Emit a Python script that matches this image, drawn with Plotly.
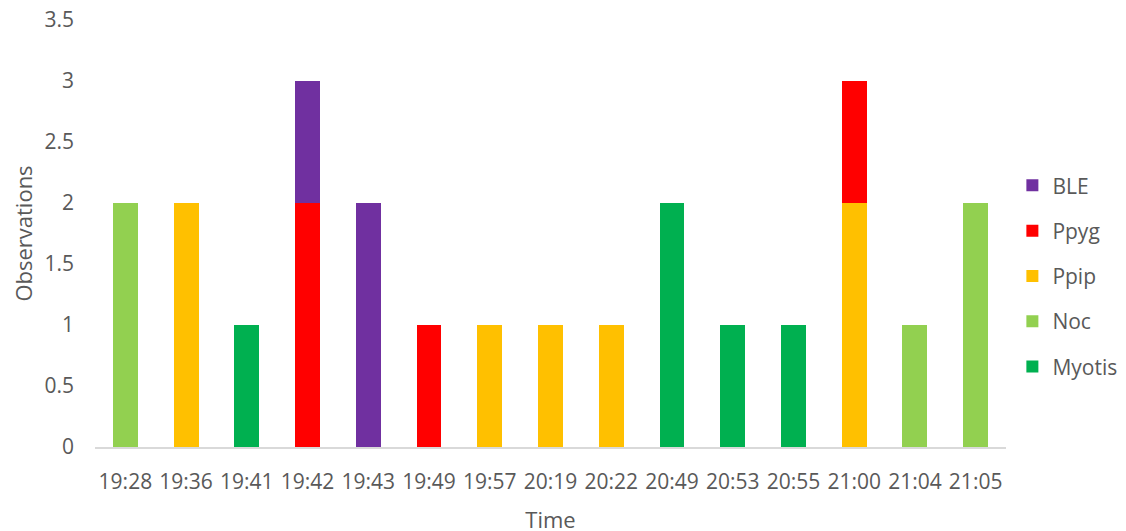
import plotly.graph_objects as go

times = ["19:28", "19:36", "19:41", "19:42", "19:43", "19:49", "19:57", "20:19",
         "20:22", "20:49", "20:53", "20:55", "21:00", "21:04", "21:05"]

myotis = [0, 0, 1, 0, 0, 0, 0, 0, 0, 2, 1, 1, 0, 0, 0]
noc = [2, 0, 0, 0, 0, 0, 0, 0, 0, 0, 0, 0, 0, 1, 2]
ppip = [0, 2, 0, 0, 0, 0, 1, 1, 1, 0, 0, 0, 2, 0, 0]
ppyg = [0, 0, 0, 2, 0, 1, 0, 0, 0, 0, 0, 0, 1, 0, 0]
ble = [0, 0, 0, 1, 2, 0, 0, 0, 0, 0, 0, 0, 0, 0, 0]

# bottom of the stack first; legend shows them top-down
series = [
    ("Myotis", myotis, "#00B050"),
    ("Noc", noc, "#92D050"),
    ("Ppip", ppip, "#FFC000"),
    ("Ppyg", ppyg, "#FF0000"),
    ("BLE", ble, "#7030A0"),
]

fig = go.Figure()
for i, (name, vals, color) in enumerate(series):
    fig.add_trace(go.Bar(x=times, y=vals, name=name, marker_color=color,
                         marker_line_width=0, legendgroup=name,
                         legendrank=len(series) - i))

grey = "#595959"
fig.update_layout(
    barmode="stack",
    bargap=0.59,
    width=1126,
    height=531,
    plot_bgcolor="white",
    paper_bgcolor="white",
    margin=dict(l=87, r=118, t=12, b=92),
    font=dict(family="Open Sans, Liberation Sans, sans-serif", color=grey, size=21),
    legend=dict(traceorder="grouped", x=1.007, y=0.40, yanchor="middle",
                tracegroupgap=15, itemwidth=30, font=dict(size=21, color=grey)),
    xaxis=dict(title=dict(text="Time", font=dict(size=22), standoff=18),
               automargin=False, showline=True, linecolor="#D9D9D9", linewidth=2,
               tickfont=dict(size=21, color=grey), ticks="", showgrid=False,
               ticklabelstandoff=15),
    yaxis=dict(title=dict(text="Observations", font=dict(size=22), standoff=6),
               automargin=False, range=[0, 3.5], dtick=0.5, showgrid=False,
               zeroline=False, tickfont=dict(size=21, color=grey), ticks="",
               ticklabelstandoff=20, ticklabeloverflow="allow"),
)

fig.write_html("out.html")
